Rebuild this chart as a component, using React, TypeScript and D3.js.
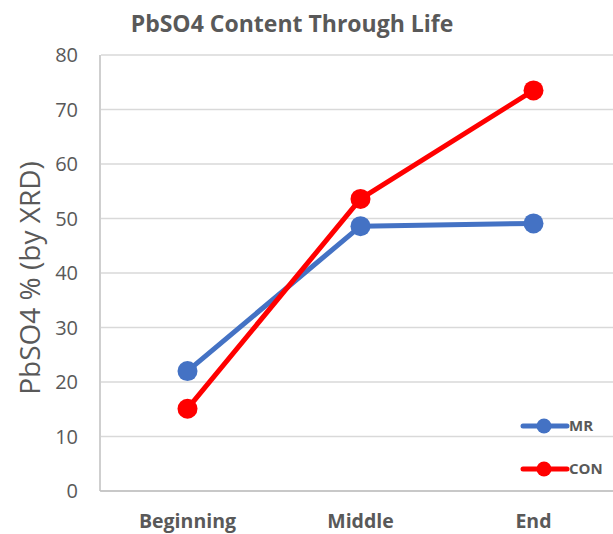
import React from "react";
import * as d3 from "d3";

const categories = ["Beginning", "Middle", "End"];
const seriesNames = ["MR", "CON"];
const mrValues = [22, 48.6, 49.1];
const conValues = [15.1, 53.6, 73.5];
const yTicks = [0, 10, 20, 30, 40, 50, 60, 70, 80];
const colors = ["#4472C4", "#FF0000"];

const W = 613;
const H = 534;
const FONT = "'Open Sans', 'Liberation Sans', sans-serif";
const GRAY = "#595959";

export default function App() {
  const x = d3.scaleBand<string>().domain(categories).range([101, 620]).padding(0);
  const y = d3.scaleLinear().domain([0, 80]).range([491, 55]);
  const cx = (c: string) => (x(c) as number) + x.bandwidth() / 2;
  const line = d3
    .line<number>()
    .x((_, i) => cx(categories[i]))
    .y((d) => y(d));
  const series = [mrValues, conValues];
  const legendY = [426, 469];

  return (
    <svg
      width={W}
      height={H}
      style={{ position: "absolute", left: 0, top: 0, background: "#fff" }}
      fontFamily={FONT}
    >
      <text x={292} y={32} textAnchor="middle" fontSize={23} fontWeight="bold" fill={GRAY}>
        PbSO4 Content Through Life
      </text>
      {yTicks.map((t) => (
        <g key={t}>
          <line x1={101} x2={W} y1={y(t)} y2={y(t)} stroke="#d9d9d9" strokeWidth={1.5} />
          <text x={78} y={y(t)} dy="0.35em" textAnchor="end" fontSize={20} fill={GRAY}>
            {t}
          </text>
        </g>
      ))}
      <line x1={100} x2={100} y1={y(80)} y2={y(0)} stroke="#bfbfbf" strokeWidth={1.5} />
      <line x1={100} x2={W} y1={y(0)} y2={y(0)} stroke="#bfbfbf" strokeWidth={1.5} />
      {categories.map((c) => (
        <text key={c} x={cx(c)} y={528} textAnchor="middle" fontSize={19.5} fontWeight="bold" fill={GRAY}>
          {c}
        </text>
      ))}
      <text
        transform={`translate(40, 278) rotate(-90)`}
        textAnchor="middle"
        fontSize={28}
        fill={GRAY}
      >
        PbSO4 % (by XRD)
      </text>
      {series.map((vals, si) => (
        <g key={si}>
          <path d={line(vals) as string} fill="none" stroke={colors[si]} strokeWidth={5} strokeLinejoin="round" />
          {vals.map((v, i) => (
            <circle key={i} cx={cx(categories[i])} cy={y(v)} r={10} fill={colors[si]} />
          ))}
        </g>
      ))}
      {seriesNames.map((n, si) => (
        <g key={n}>
          <line x1={523} x2={567} y1={legendY[si]} y2={legendY[si]} stroke={colors[si]} strokeWidth={5} strokeLinecap="round" />
          <circle cx={544} cy={legendY[si]} r={7.5} fill={colors[si]} />
          <text x={569} y={legendY[si]} dy="0.35em" fontSize={15} fontWeight="bold" fill={GRAY}>
            {n}
          </text>
        </g>
      ))}
    </svg>
  );
}
